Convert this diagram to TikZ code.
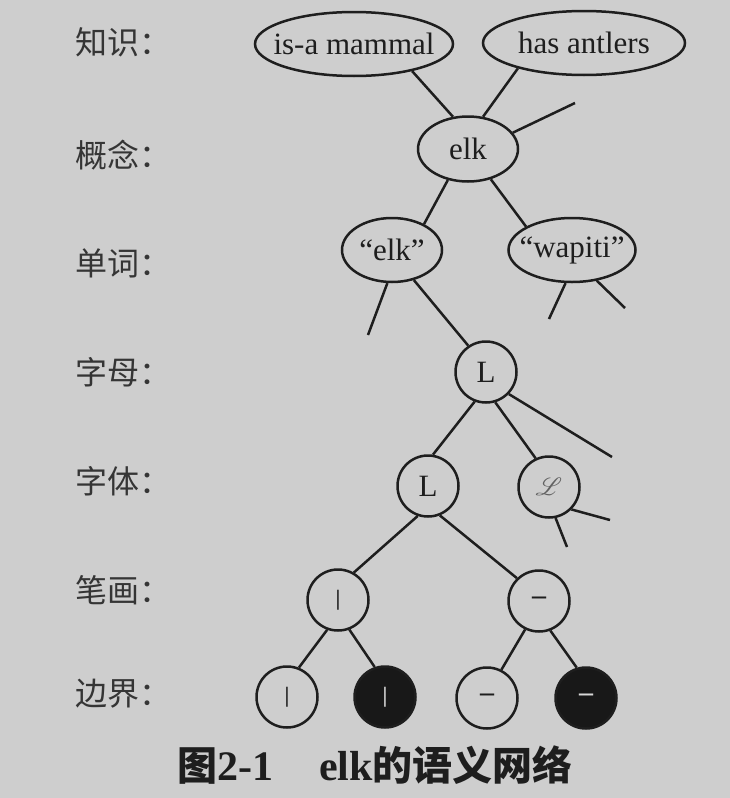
\documentclass[tikz,border=0pt]{standalone}
\usepackage{fontspec}
\setmainfont{Liberation Serif}
\newfontfamily\cjk{Noto Sans CJK SC}
\usepackage{mathrsfs}
\usetikzlibrary{shapes.geometric}

\definecolor{paper}{RGB}{206,206,206}
\definecolor{ink}{RGB}{30,30,30}
\newcommand{\tightbox}[1]{\makebox[0pt]{#1}}

\tikzset{
  concept/.style={ellipse,draw=ink,line width=2.5pt,inner sep=0pt,minimum height=64pt,font=\fontsize{31}{36}\selectfont,text=ink},
  letter/.style={circle,draw=ink,line width=2.5pt,inner sep=0pt,minimum size=61pt,font=\fontsize{31}{36}\selectfont,text=ink},
  inked/.style={letter,fill=ink!80!black,text=paper!80!white},
  thinbar/.style={font=\bfseries\fontsize{22}{24}\selectfont},
  thindash/.style={font=\bfseries\fontsize{28}{30}\selectfont},
  link/.style={draw=ink,line width=2.5pt},
  level/.style={anchor=west,inner sep=0pt,font=\cjk\fontsize{32}{36}\selectfont,text=ink!90}
}

\begin{document}
\begin{tikzpicture}[x=1pt,y=-1pt]
	\useasboundingbox[fill=paper] (0,0) rectangle (730,798); %page

	%level labels
	\node[level] (know) at (75,42) {知识：};
	\node[level] (concept) at (75,155) {概念：};
	\node[level] (word) at (75,263) {单词：};
	\node[level] (letter) at (75,372) {字母：};
	\node[level] (font) at (75,481) {字体：};
	\node[level] (stroke) at (75,590) {笔画：};
	\node[level] (edge) at (75,694) {边界：};

	%knowledge and concept
	\node[concept,minimum width=198pt] (mammal) at (354,44) {\tightbox{is-a mammal}};
	\node[concept,minimum width=202pt] (antlers) at (584,43) {\tightbox{has antlers}};
	\node[concept,minimum width=100pt,minimum height=65pt] (elk) at (468,149) {\tightbox{elk}};

	%words
	\node[concept,minimum width=100pt] (wordelk) at (392,250) {\tightbox{“elk”}};
	\node[concept,minimum width=127pt] (wapiti) at (572,250) {\tightbox{“wapiti”}};

	%letter and fonts
	\node[letter] (letL) at (486,372) {L};
	\node[letter] (fontL) at (428,486) {L};
	\node[letter,text=ink!70] (fontS) at (549,487) {$\mathscr{L}$};

	%strokes and edges
	\node[letter,thinbar] (strV) at (338,600) {|};
	\node[letter,thindash] (strH) at (539,601) {–};
	\node[letter,thinbar] (edgeA) at (287,697) {|};
	\node[inked,thinbar] (edgeB) at (385,697) {|};
	\node[letter,thindash] (edgeC) at (487,698) {–};
	\node[inked,thindash] (edgeD) at (586,698) {–};

	%loose ends
	\coordinate (elkfree) at (575,103);
	\coordinate (wordfree) at (368,335);
	\coordinate (wapfreeA) at (549,319);
	\coordinate (wapfreeB) at (625,308);
	\coordinate (letfree) at (612,457);
	\coordinate (scriptfreeA) at (610,520);
	\coordinate (scriptfreeB) at (567,547);

	%links
	\draw[link] (mammal.335) -- (elk.115); %is-a
	\draw[link] (antlers.201) -- (elk.65); %has
	\draw[link] (elk.20) -- (elkfree); %more knowledge
	\draw[link] (elk.237) -- (wordelk.39);
	\draw[link] (elk.307) -- (wapiti.153);
	\draw[link] (wordelk.262) -- (wordfree);
	\draw[link] (wordelk.306) -- (letL.124);
	\draw[link] (wapiti.259) -- (wapfreeA);
	\draw[link] (wapiti.309) -- (wapfreeB);
	\draw[link] (letL.249) -- (fontL.81);
	\draw[link] (letL.287) -- (fontS.115);
	\draw[link] (letL.316) -- (letfree);
	\draw[link] (fontS.315) -- (scriptfreeA);
	\draw[link] (fontS.282) -- (scriptfreeB);
	\draw[link] (fontL.251) -- (strV.60);
	\draw[link] (fontL.292) -- (strH.134);
	\draw[link] (strV.250) -- (edgeA.68);
	\draw[link] (strV.291) -- (edgeB.109);
	\draw[link] (strH.244) -- (edgeC.63);
	\draw[link] (strH.291) -- (edgeD.107);

	%caption
	\node[font=\bfseries\fontsize{42}{46}\selectfont,text=ink] (caption) at (375,765)
	  {{\cjk\fontsize{40}{46}\selectfont 图}2-1\hspace{46pt}elk{\cjk\fontsize{40}{46}\selectfont 的语义网络}};
\end{tikzpicture}
\end{document}
